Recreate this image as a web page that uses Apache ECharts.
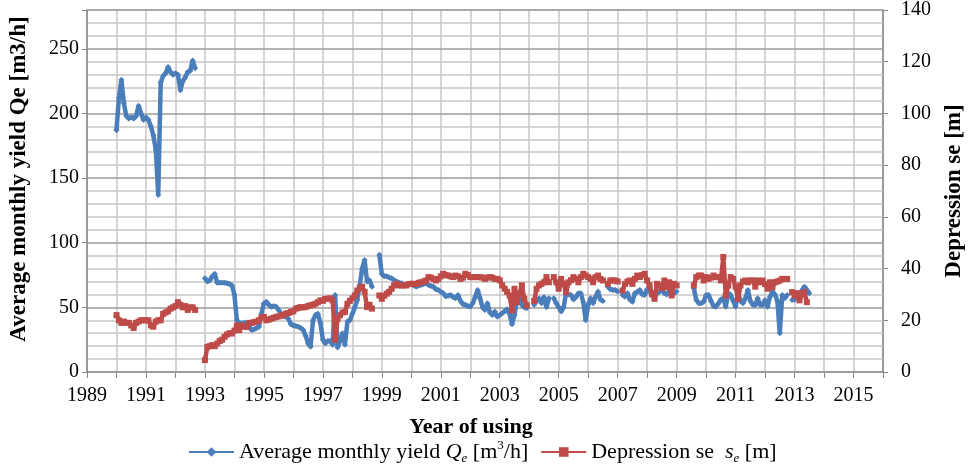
<!DOCTYPE html>
<html>
<head>
<meta charset="utf-8">
<script src="https://cdn.jsdelivr.net/npm/echarts@6/dist/echarts.min.js"></script>
<style>
  html, body { margin: 0; padding: 0; background: #fff; }
  #chart { width: 974px; height: 466px; }
</style>
</head>
<body>
<div id="chart"></div>
<script>
// monthly values, first entry = Jan 1990; null = no record
const startYear = 1990
const yieldQe = [
  187, 212, 226, 208, 198, 196, 197, 196, 198, 206, 200, 195,          // 1990
  197, 195, 190, 183, 172, 137, 224, 229, 231, 236, 232, 230,          // 1991
  231, 230, 218, 225, 228, 232, 233, 241, 235, null, null, null,       // 1992
  72.5, 70, 71, 74, 76, 69, 69, 69, 69, 68.6, 68, 67,                  // 1993
  60, 40, 38, 37.7, 38, 37.7, 35, 32.5, 33, 34, 35, 45,                // 1994
  53, 54.4, 52, 50.5, 51, 50.5, 48, 45, 43, 43, 41, 37,                // 1995
  36, 35.5, 35, 34, 32.5, 28, 22, 19.6, 40, 44, 45, 38,                // 1996
  25, 22, 24, 24, 21, 59.6, 19, 24, 30, 21, 39, 40,                    // 1997
  45, 50, 55.7, 67, 80, 86.7, 70, 71, 66, null, null, 90.6,            // 1998
  76, 74, 74, 73, 72.5, 71, 70, 69, 68.7, 67.5, 67, 68,                // 1999
  68.7, 67, 66, 67, 67.3, 68, 68.7, 67.3, 66.5, 66, 64, 63.5,          // 2000
  62, 61, 58.5, 59, 59.6, 58, 57, 59.6, 55, 52.5, 52, 51,              // 2001
  50.5, 53.2, 58, 63.5, 57, 50, 48, 53.2, 46, 44.1, 46.7, 42.8,        // 2002
  44, 45.4, 47, 48.5, 45, 37, 44.1, 55, 57, 52, 50, 49.3,              // 2003
  null, null, 52, 55, 57, 53.2, 58, 50, 57, null, 57, 53.2,            // 2004
  50, 46.7, 50, 60.9, 60, 59.6, 56, 58, 60.9, 60.9, 54, 40,            // 2005
  52, 57, 53.2, 58, 62.2, 56, 55, null, 66, 64, 63.5, 63.5,            // 2006
  62.2, null, 59.6, 58.3, 60.9, 56, 54.4, 60.9, 62, 63.5, 60, 59.6,    // 2007
  64, 62.2, 61, 57, 61, 62, 64.8, 61, 60, 62.2, 61, 60.9,              // 2008
  62.2, null, null, null, null, null, null, 64.8, 55.7, 53.2, 53.2, 54.4, // 2009
  59.6, 59.6, 55, 51, 50.5, 53, 56, 57, 50.5, 60.9, 59.6, 55,          // 2010
  50.5, 60.9, 55, 53.2, 57, 63.5, 55, 52, 51.9, 57, 51.9, 51.9,        // 2011
  55.7, 50.5, 58.3, 62.2, 60, 55, 30, 59.6, 57, 59.6, null, 55.7,      // 2012
  56, 58.3, 55.7, 63, 66, 63.5, 61                                     // 2013
]
const depressionSe = [
  22, 20, 19, 19.5, 19, 19, 18, 17, 19, 19.5, 20, 20,                  // 1990
  20, 20, 18, 17.5, 19.5, 20, 20, 22.5, 23, 23.5, 24.5, 25,            // 1991
  25.5, 27, 26, 25, 25.5, 24, 25, 25, 24, null, null, null,            // 1992
  4.6, 9.7, 10, 10.4, 10, 11, 12, 12.5, 13.6, 14.5, 15, 14.9,          // 1993
  16, 18, 16.2, 18, 17.5, 17.4, 19, 19, 19.3, 19.5, 20, 21,            // 1994
  21.3, 20, 20.3, 20.6, 21, 21.3, 21.5, 21.9, 22, 22.6, 22.8, 23.2,    // 1995
  23.5, 24.5, 24.8, 25.1, 25, 25.1, 25.5, 25.8, 26, 26.4, 27, 27.7,    // 1996
  27.5, 28.3, 28.3, 28.5, 27.7, 12.5, 20.6, 22, 23, 23.2, 26.4, 27.5,  // 1997
  28.5, 29.6, 31.5, 32.5, 33, 31, 25.1, 26, 24.5, null, null, 29.6,    // 1998
  28.3, 29.5, 30.3, 31, 32.2, 33.5, 34.1, 33.5, 33.5, 33.5, 33.5, 34,  // 1999
  34.1, 34.1, 34, 34.5, 34.7, 35, 35.4, 36.7, 36.5, 36, 35.4, 36,      // 2000
  37, 38, 37.5, 37.3, 37, 36.7, 37.3, 37, 36, 36.5, 38, 37.5,          // 2001
  36.7, 36.7, 36.7, 36.7, 36.7, 36.5, 36, 36.5, 36.7, 36.5, 36, 36,    // 2002
  35.5, 33.5, 32.2, 31, 29.6, 23.8, 32.2, 27, 30.3, 33.5, 28.3, 25.8,  // 2003
  null, null, 27.5, 32.2, 33.5, 34.1, 34.7, 36.7, 34.7, null, 36.7, 34.7, // 2004
  32.2, 36, 34.1, 30.9, 34.7, 35.5, 36.7, 36, 34.7, 36.7, 38, 37.3,    // 2005
  36.7, 36, 34.7, 36.7, 37.3, 36, 35.4, null, 34.1, 35.4, 35.4, 35.4,  // 2006
  35, null, 31.5, 34.1, 35, 35.4, 34.1, 36, 37.3, 36.7, 37.5, 38,      // 2007
  35.4, 33.5, 30, 28.3, 34.1, 33.5, 32.5, 35.4, 32.8, 34.7, 29.6, 34.1, // 2008
  33.5, null, null, null, null, null, null, 33.5, 36.7, 37.3, 37.3, 35.4, // 2009
  36.7, 36, 36.5, 37.3, 36.7, 36.7, 35.4, 44.5, 29.6, 33.5, 36.7, 36,  // 2010
  33, 28.3, 33.5, 35, 35.4, 34.7, 35.4, 35.4, 33, 35.4, 34.7, 35.4,    // 2011
  34, 32.2, 34.7, 32.8, 34.7, 35, 35.4, 36, 36, 36, null, 30.9,        // 2012
  29.6, 30.5, 27.7, 30.3, 30.9, 27                                     // 2013
]
const seriesNames = ['Average monthly yield Qe [m3/h]', 'Depression se [m]']

const font = "'Liberation Serif', 'Times New Roman', serif"
const gridMajor = '#9a9a9a'
const gridMinor = '#c6c6c6'
const axisGray = '#868686'
const toPairs = arr => arr.map((v, i) => [startYear + i / 12, v])

const chart = echarts.init(document.getElementById('chart'))

chart.setOption({
  animation: false,
  backgroundColor: '#fff',
  textStyle: { fontFamily: font, color: '#000' },
  grid: { left: 84, right: 83, top: 9, bottom: 94 },
  legend: {
    top: 434,
    left: 183,
    itemWidth: 45,
    itemHeight: 12,
    itemGap: 12,
    data: seriesNames,
    textStyle: {
      fontFamily: font, fontSize: 22, color: '#000', lineHeight: 26,
      rich: {
        i: { fontFamily: font, fontStyle: 'italic', fontSize: 22, lineHeight: 26 },
        sub: { fontFamily: font, fontStyle: 'italic', fontSize: 13, verticalAlign: 'bottom', lineHeight: 26 },
        sup: { fontFamily: font, fontSize: 13, verticalAlign: 'top', lineHeight: 26 }
      }
    },
    formatter: name => name === seriesNames[0]
      ? 'Average monthly yield {i|Q}{sub|e} [m{sup|3}/h]'
      : 'Depression se  {i|s}{sub|e} [m]'
  },
  xAxis: {
    type: 'value',
    min: 1989,
    max: 2016,
    interval: 1,
    name: 'Year of using',
    nameLocation: 'middle',
    nameGap: 44,
    nameTextStyle: { fontFamily: font, fontWeight: 'bold', fontSize: 22, color: '#000', padding: [0, 28, 0, 0] },
    axisLine: { lineStyle: { color: axisGray, width: 1.5 } },
    axisTick: { length: 6, lineStyle: { color: axisGray } },
    axisLabel: {
      fontFamily: font, fontSize: 20, color: '#000', margin: 14,
      formatter: v => (v % 2 === 1 ? String(v) : '')
    },
    splitLine: { show: true, lineStyle: { color: gridMinor, width: 1.5 } }
  },
  yAxis: [
    {
      // labelled left axis, major grid every 50
      type: 'value',
      min: 0,
      max: 280,
      interval: 50,
      name: 'Average monthly yield Qe [m3/h]',
      nameLocation: 'middle',
      nameRotate: 90,
      nameGap: 56,
      nameTextStyle: { fontFamily: font, fontWeight: 'bold', fontSize: 23, color: '#000', padding: [0, 0, 0, 24] },
      axisLine: { show: true, lineStyle: { color: axisGray, width: 1.5 } },
      axisTick: { show: true, length: 5, lineStyle: { color: axisGray } },
      axisLabel: {
        fontFamily: font, fontSize: 20, color: '#000', margin: 8,
        formatter: v => (v <= 250 ? String(v) : '')
      },
      splitLine: { show: true, lineStyle: { color: gridMajor, width: 1.5 } },
      z: 3
    },
    {
      type: 'value',
      min: 0,
      max: 140,
      interval: 20,
      position: 'right',
      name: 'Depression se [m]',
      nameLocation: 'middle',
      nameRotate: 90,
      nameGap: 60,
      nameTextStyle: { fontFamily: font, fontWeight: 'bold', fontSize: 23, color: '#000' },
      axisLine: { show: true, lineStyle: { color: axisGray, width: 1.5 } },
      axisTick: { show: true, length: 5, lineStyle: { color: axisGray } },
      axisLabel: { fontFamily: font, fontSize: 20, color: '#000', margin: 18 },
      splitLine: { show: false }
    },
    {
      // unlabelled helper axis for the minor grid every 10
      type: 'value',
      min: 0,
      max: 280,
      interval: 10,
      position: 'left',
      axisLine: { show: false },
      axisTick: { show: false },
      axisLabel: { show: false },
      splitLine: {
        show: true,
        lineStyle: { color: ['rgba(0,0,0,0)', gridMinor, gridMinor, gridMinor, gridMinor], width: 1.5 }
      },
      z: 1
    }
  ],
  series: [
    {
      name: seriesNames[0],
      type: 'line',
      yAxisIndex: 0,
      data: toPairs(yieldQe),
      symbol: 'diamond',
      symbolSize: 6,
      itemStyle: { color: '#4a7ebb' },
      lineStyle: { color: '#4a7ebb', width: 4.5 },
      connectNulls: false,
      z: 4
    },
    {
      name: seriesNames[1],
      type: 'line',
      yAxisIndex: 1,
      data: toPairs(depressionSe),
      symbol: 'rect',
      symbolSize: 6,
      itemStyle: { color: '#be4b48' },
      lineStyle: { color: '#be4b48', width: 4.5 },
      connectNulls: false,
      z: 5
    }
  ]
})
</script>
</body>
</html>
